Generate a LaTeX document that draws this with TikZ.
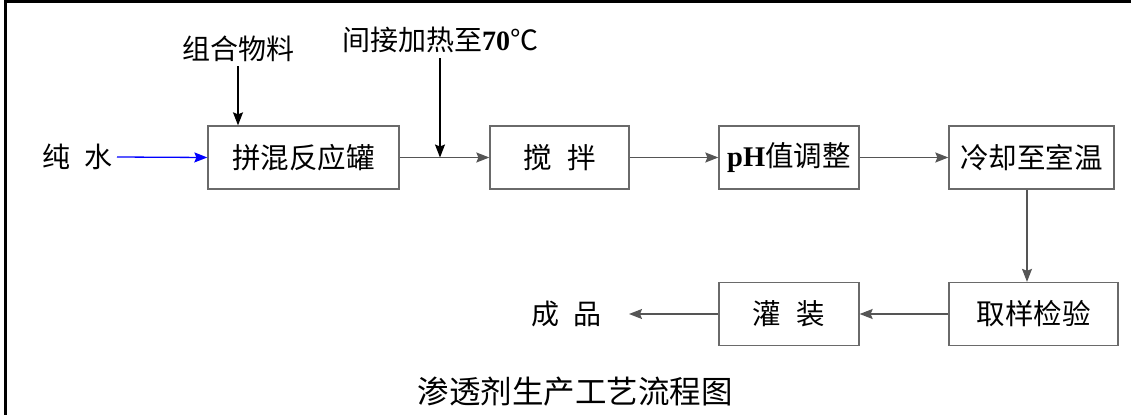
\documentclass[tikz,border=0pt]{standalone}
\usepackage{fontspec}
\newfontfamily\cjk{Noto Sans CJK SC}
\newfontfamily\tnr{Liberation Serif}
\usetikzlibrary{arrows.meta}
\definecolor{boxgray}{HTML}{6A6A6A}
\definecolor{linegray}{HTML}{555555}
\tikzset{
  box/.style={draw=boxgray, line width=1.3pt, minimum height=63pt, inner sep=0pt,
    font=\cjk\fontsize{28.5}{28.5}\selectfont},
  lbl/.style={inner sep=4.5pt, font=\cjk\fontsize{28}{28}\selectfont},
  arr/.style={draw=linegray, line width=1.3pt, -{Stealth[length=13pt,width=10pt,inset=2pt]}},
  frame/.style={line width=2.5pt, black}
}
\begin{document}
\begin{tikzpicture}[x=1pt,y=-1pt]
\useasboundingbox (0,0) rectangle (1136,415);
% frame
\coordinate (fa) at (5.5,415);
\coordinate (fb) at (5.5,1.5);
\coordinate (fc) at (1131,1.5);
\draw[frame] (fa) -- (fb) -- (fc);
% boxes
\node[box, minimum width=191pt] (b1) at (303.5,157.5) {拼混反应罐};
\node[box, minimum width=139pt] (b2) at (559.5,157.5) {搅\hspace{0.55em}拌};
\node[box, minimum width=140pt] (b3) at (789,157.5) {{\tnr\bfseries pH}值调整};
\node[box, minimum width=165pt] (b4) at (1031.5,157.5) {冷却至室温};
\node[box, minimum width=169pt] (b5) at (1033.5,314) {取样检验};
\node[box, minimum width=140pt] (b6) at (789,314) {灌\hspace{0.55em}装};
% labels
\node[lbl, anchor=east] (water) at (117,157) {纯\hspace{0.5em}水};
\node[lbl, anchor=south] (mat) at (238,66) {组合物料};
\node[lbl, anchor=south] (heat) at (440,58) {间接加热至{\tnr\bfseries 70}℃};
\node[lbl, anchor=east] (prod) at (606,314) {成\hspace{0.5em}品};
\node[inner sep=0pt, font=\cjk\fontsize{31.5}{31.5}\selectfont] (title) at (575,392) {渗透剂生产工艺流程图};
% connectors
\coordinate (j) at (440,157.5);
\coordinate (vx) at (1027,0);
\draw[arr, draw=blue] (water.east) -- (b1.west);
\draw[arr, draw=black] (mat.south) -- (mat.south |- b1.north);
\draw[linegray, line width=1.3pt] (b1.east) -- (j);
\draw[arr] (j) -- (b2.west);
\draw[arr, draw=black] (heat.south) -- (j);
\draw[arr] (b2.east) -- (b3.west);
\draw[arr] (b3.east) -- (b4.west);
\draw[arr] (vx |- b4.south) -- (vx |- b5.north);
\draw[arr] (b5.west) -- (b6.east);
\draw[arr] (b6.west) -- ([xshift=23pt]prod.east);
\end{tikzpicture}
\end{document}
